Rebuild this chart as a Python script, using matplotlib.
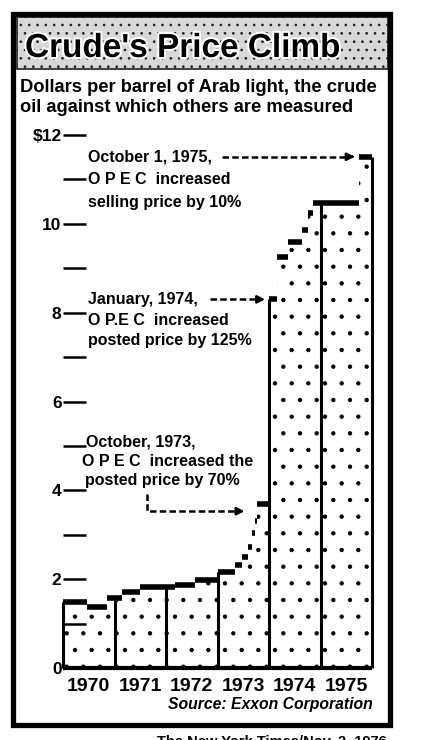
import numpy as np
import matplotlib.pyplot as plt
import matplotlib.patheffects as pe
from matplotlib.patches import Rectangle

# ----------------------------------------------------------
# Data: Arab light price steps (start of each step, dollars)
# ----------------------------------------------------------
step_start = [1970.00, 1970.46, 1970.85, 1971.14, 1971.50, 1972.17, 1972.56,
              1973.00, 1973.34, 1973.48, 1973.60, 1973.67, 1973.73, 1973.77,
              1974.00, 1974.16, 1974.37, 1974.65, 1974.76, 1974.85, 1975.75]
price = [1.49, 1.38, 1.57, 1.72, 1.83, 1.87, 1.98,
         2.17, 2.32, 2.51, 2.73, 3.04, 3.30, 3.70,
         8.30, 9.26, 9.60, 9.86, 10.24, 10.46, 11.51]
series_end = 1976.0

years = [1970, 1971, 1972, 1973, 1974, 1975]
year_labels = ["1970", "1971", "1972", "1973", "1974", "1975"]
ytick_major = [0, 2, 4, 6, 8, 10, 12]
ytick_labels = ["0", "2", "4", "6", "8", "10", "$12"]
ytick_minor = [1, 3, 5, 7, 9, 11]

FONT = "Liberation Sans"
W, H = 430, 740

edges = np.array(step_start + [series_end])
values = np.array(price)


def price_at(t):
    idx = np.searchsorted(edges, t, side="right") - 1
    idx = min(max(idx, 0), len(values) - 1)
    return values[idx]


fig = plt.figure(figsize=(W / 100, H / 100), dpi=100)
fig.patch.set_facecolor("white")

# axes placed in pixel terms: x 63..372, y(0)=668, y(12)=135
ax = fig.add_axes([63 / W, (H - 668) / H, (372 - 63) / W, (668 - 135) / H])
ax.set_xlim(1970, 1976)
ax.set_ylim(0, 12)
for s in ax.spines.values():
    s.set_visible(False)
ax.patch.set_alpha(0)

plt.rcParams["hatch.color"] = "black"
plt.rcParams["hatch.linewidth"] = 0.7

# stippled area under the price steps
ax.stairs(values, edges, baseline=0, fill=True, facecolor="white",
          edgecolor="black", linewidth=0, hatch=".", zorder=1)

# heavy caps on each step
ax.hlines(values, edges[:-1], edges[1:], colors="black", linewidth=4,
          zorder=3, clip_on=False)

# year column edges
col_edges = years + [1976]
ax.vlines(col_edges, 0, [price_at(y - 1e-6 if y == 1976 else y) for y in col_edges],
          colors="black", linewidth=2.2, zorder=2, clip_on=False)
ax.hlines(0, 1970, 1976, colors="black", linewidth=3, zorder=3, clip_on=False)

# axis ticks as short dashes inside the plot
ax.set_yticks(ytick_major)
ax.set_yticklabels(ytick_labels, fontsize=12.5, fontweight="bold", family=FONT)
ax.set_yticks(ytick_minor, minor=True)
ax.tick_params(axis="y", which="both", direction="in", length=16.5, width=1.8,
               pad=1, left=True)
ax.set_xticks([y + 0.5 for y in years])
ax.set_xticklabels(year_labels, fontsize=14, fontweight="bold", family=FONT)
ax.tick_params(axis="x", length=0, pad=7)

txt = dict(fontsize=11.5, fontweight="bold", family=FONT, va="center", ha="left")
dash = dict(color="black", linewidth=1.8, dashes=(2.6, 1.3), clip_on=False)
head = dict(arrowstyle="-|>", color="black", lw=1.8, mutation_scale=11)

# October 1, 1975
y1 = price[-1]
ax.text(1970.485, y1, "October 1, 1975,", **txt)
ax.text(1970.485, y1 - 0.52, "O P E C  increased", **txt)
ax.text(1970.485, y1 - 1.02, "selling price by 10%", **txt)
ax.plot([1973.08, 1975.55], [y1, y1], **dash)
ax.annotate("", xy=(1975.72, y1), xytext=(1975.52, y1), arrowprops=head)

# January, 1974
y2 = price_at(1974.0)
ax.text(1970.485, y2, "January, 1974,", **txt)
ax.text(1970.485, y2 - 0.48, "O P.E C  increased", **txt)
ax.text(1970.485, y2 - 0.93, "posted price by 125%", **txt)
ax.plot([1972.85, 1973.78], [y2, y2], **dash)
ax.annotate("", xy=(1973.98, y2), xytext=(1973.76, y2), arrowprops=head)

# October, 1973
ax.text(1970.45, 5.09, "October, 1973,", **txt)
ax.text(1970.37, 4.66, "O P E C  increased the", **txt)
ax.text(1970.43, 4.23, "posted price by 70%", **txt)
ax.plot([1971.63, 1971.63, 1973.38], [3.92, 3.53, 3.53], **dash)
ax.annotate("", xy=(1973.58, 3.53), xytext=(1973.36, 3.53), arrowprops=head)


# frame, title band and captions (figure pixel space)
def fx(x):
    return x / W


def fy(y):
    return (H - y) / H


fig.patches.append(Rectangle((fx(17), fy(69)), fx(388) - fx(17), fy(17) - fy(69),
                             transform=fig.transFigure, facecolor="#d8d8d8",
                             edgecolor="#222222", linewidth=1.2, hatch="..",
                             zorder=0))
fig.patches.append(Rectangle((fx(12.5), fy(725)), fx(390) - fx(12.5), fy(14) - fy(725),
                             transform=fig.transFigure, facecolor="none",
                             edgecolor="black", linewidth=3.8, zorder=5))

fig.text(fx(25), fy(57), "Crude's Price Climb", fontsize=24, fontweight="bold",
         family=FONT, color="black", va="baseline", ha="left",
         path_effects=[pe.withStroke(linewidth=3, foreground="white")])
fig.text(fx(20), fy(88), "Dollars per barrel of Arab light, the crude",
         fontsize=13.2, fontweight="bold", family=FONT, va="center", ha="left")
fig.text(fx(20), fy(107), "oil against which others are measured",
         fontsize=13.2, fontweight="bold", family=FONT, va="center", ha="left")
fig.text(fx(373), fy(705), "Source: Exxon Corporation", fontsize=11.3,
         fontweight="bold", style="italic", family=FONT, va="center", ha="right")
fig.text(fx(157), fy(734), "The New York Times/Nov. 2, 1976", fontsize=10.5,
         fontweight="bold", family=FONT, va="top", ha="left")

fig.savefig("out.png", dpi=100)
